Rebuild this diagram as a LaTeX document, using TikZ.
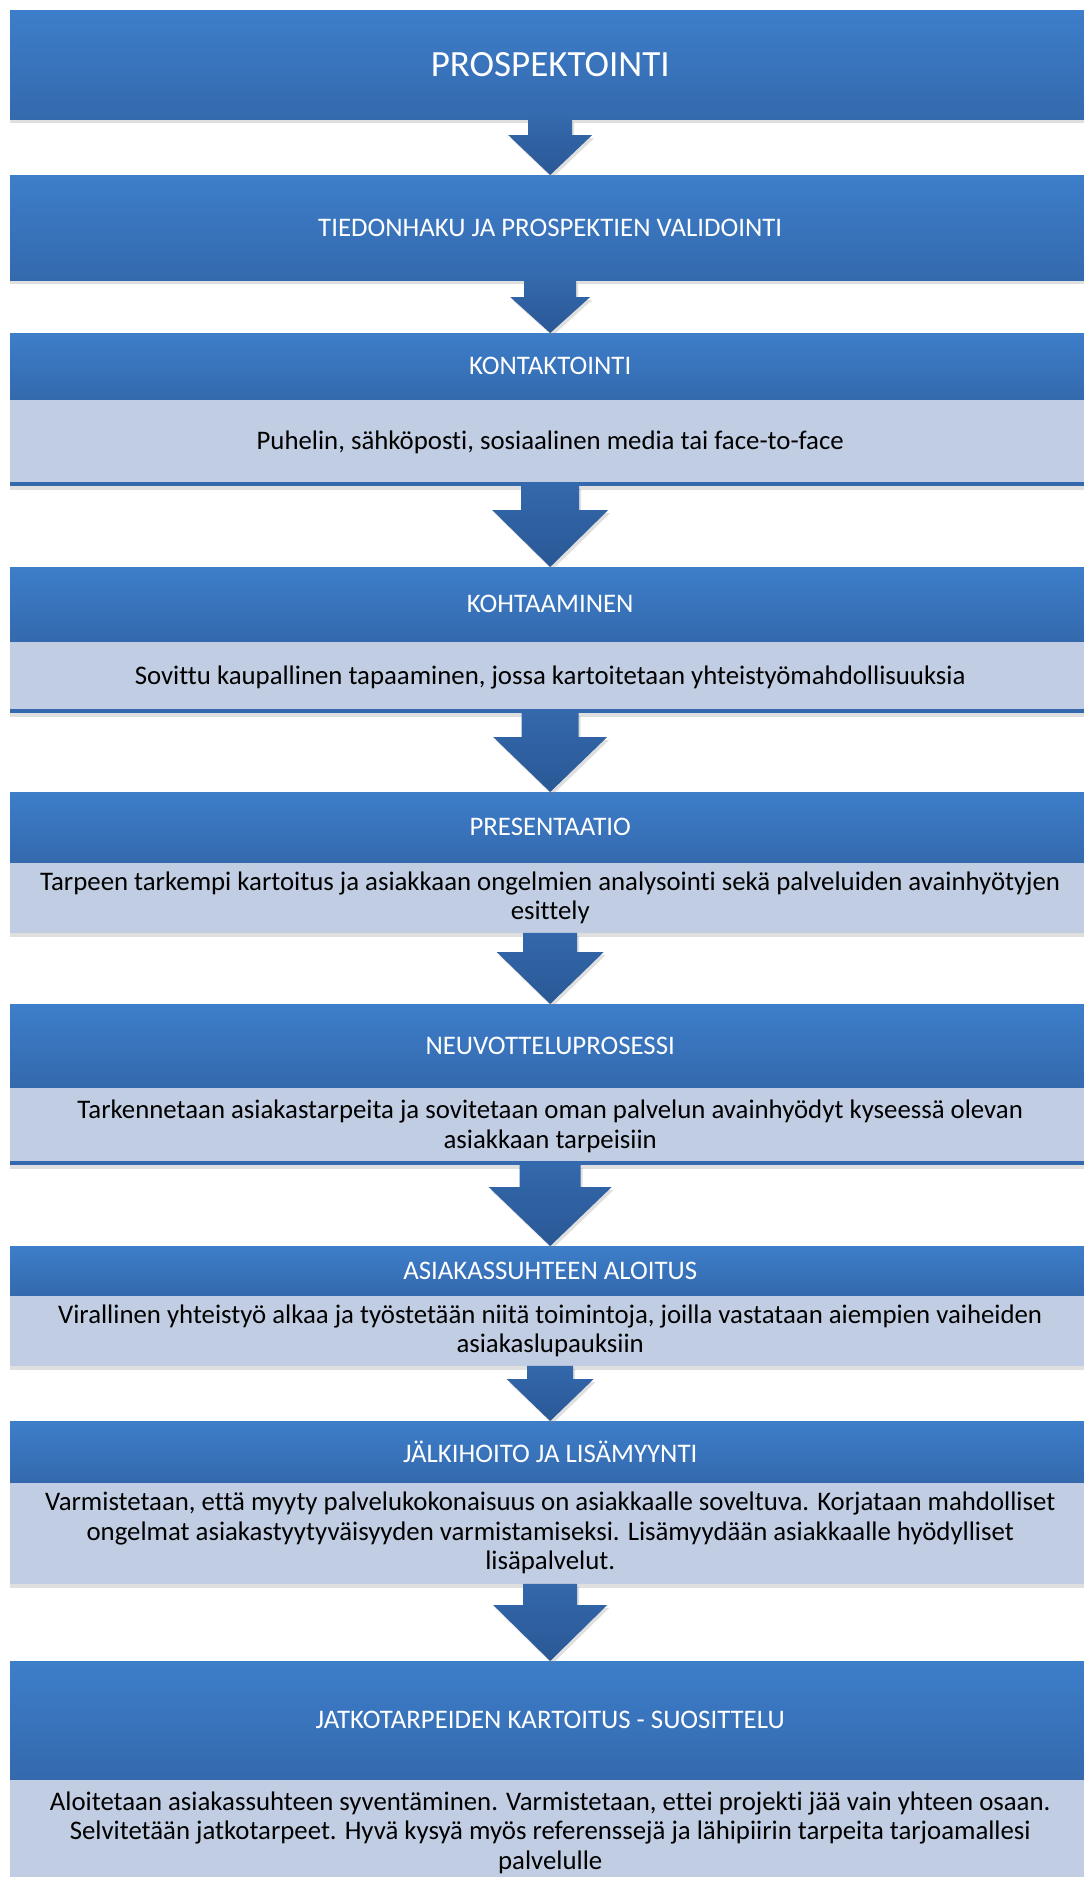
\documentclass[tikz,border=0pt]{standalone}
\usepackage{fontspec}
\setmainfont{Carlito}[Ligatures=CommonOff]
\usetikzlibrary{positioning,calc,shadows}
\definecolor{hdrTop}{RGB}{61,126,202}
\definecolor{hdrBot}{RGB}{52,105,173}
\definecolor{bodyFill}{RGB}{193,205,226}
\definecolor{arrTop}{RGB}{51,104,171}
\definecolor{arrBot}{RGB}{42,88,150}
\newcommand{\flowarrow}[5]{%
  \shade[arrowshade] let \p1=(#1.south), \p2=(#2.north) in
    (\x1-#3pt,\y1) -- (\x1+#3pt,\y1) -- (\x1+#3pt,\y2+#5pt) -- (\x1+#4pt,\y2+#5pt)
    -- (\x1,\y2) -- (\x1-#4pt,\y2+#5pt) -- (\x1-#3pt,\y2+#5pt) -- cycle;}

\begin{document}
\begin{tikzpicture}[
    x=1pt, y=1pt,
    hdr/.style={rectangle, inner sep=0pt, minimum width=1080pt, anchor=north west,
      text=white, top color=hdrTop, bottom color=hdrBot,
      font=\fontsize{26.8}{30}\selectfont,
      drop shadow={shadow xshift=0pt, shadow yshift=-4pt, opacity=.25}},
    body/.style={rectangle, inner sep=0pt, minimum width=1080pt, fill=bodyFill,
      align=center, font=\fontsize{26.8}{29.5}\selectfont,
      drop shadow={shadow xshift=0pt, shadow yshift=-4pt, opacity=.25}},
    arrowshade/.style={top color=arrTop, bottom color=arrBot,
      drop shadow={shadow xshift=2pt, shadow yshift=-3pt, opacity=.25}},
    bodyedge/.style={draw=hdrBot, line width=4pt}
]
\clip (0,0) rectangle (1084,-1877);
\fill[white] (0,0) rectangle (1084,-1877);

\node[hdr, minimum height=109pt, font=\fontsize{37}{44}\selectfont] (PR) at (10,-10) {PROSPEKTOINTI};
\node[hdr, minimum height=105pt] (TI) at (10,-175) {TIEDONHAKU JA PROSPEKTIEN VALIDOINTI};

\node[hdr, minimum height=66pt] (KO) at (10,-333) {KONTAKTOINTI};
\node[body, minimum height=86pt] (KOb) [below=0pt of KO] {Puhelin, sähköposti, sosiaalinen media tai face-to-face};

\node[hdr, minimum height=74pt] (KH) at (10,-567) {KOHTAAMINEN};
\node[body, minimum height=71pt] (KHb) [below=0pt of KH] {Sovittu kaupallinen tapaaminen, jossa kartoitetaan yhteistyömahdollisuuksia};

\node[hdr, minimum height=70pt] (PE) at (10,-792) {PRESENTAATIO};
\node[body, minimum height=70pt] (PEb) [below=0pt of PE] {Tarpeen tarkempi kartoitus ja asiakkaan ongelmien analysointi sekä palveluiden avainhyötyjen\\esittely};

\node[hdr, minimum height=83pt] (NE) at (10,-1004) {NEUVOTTELUPROSESSI};
\node[body, minimum height=77pt] (NEb) [below=0pt of NE] {Tarkennetaan asiakastarpeita ja sovitetaan oman palvelun avainhyödyt kyseessä olevan\\asiakkaan tarpeisiin};

\node[hdr, minimum height=49pt] (AS) at (10,-1246) {ASIAKASSUHTEEN ALOITUS};
\node[body, minimum height=70pt] (ASb) [below=0pt of AS] {Virallinen yhteistyö alkaa ja työstetään niitä toimintoja, joilla vastataan aiempien vaiheiden\\asiakaslupauksiin};

\node[hdr, minimum height=61pt] (JL) at (10,-1421) {JÄLKIHOITO JA LISÄMYYNTI};
\node[body, minimum height=101pt] (JLb) [below=0pt of JL] {Varmistetaan, että myyty palvelukokonaisuus on asiakkaalle soveltuva. Korjataan mahdolliset\\ongelmat asiakastyytyväisyyden varmistamiseksi. Lisämyydään asiakkaalle hyödylliset\\lisäpalvelut.};

\node[hdr, minimum height=118pt] (JA) at (10,-1661) {JATKOTARPEIDEN KARTOITUS - SUOSITTELU};
\node[body, minimum height=106pt] (JAb) [below=0pt of JA] {Aloitetaan asiakassuhteen syventäminen. Varmistetaan, ettei projekti jää vain yhteen osaan.\\Selvitetään jatkotarpeet. Hyvä kysyä myös referenssejä ja lähipiirin tarpeita tarjoamallesi\\palvelulle};

\draw[bodyedge] ([yshift=2pt]KOb.south west) -- ([yshift=2pt]KOb.south east);
\draw[bodyedge] ([yshift=2pt]KHb.south west) -- ([yshift=2pt]KHb.south east);
\draw[bodyedge] ([yshift=2pt]NEb.south west) -- ([yshift=2pt]NEb.south east);

\flowarrow{PR}{TI}{22}{42}{40}
\flowarrow{TI}{KO}{26}{40}{36}
\flowarrow{KOb}{KH}{29}{58}{57}
\flowarrow{KHb}{PE}{28.5}{57}{55}
\flowarrow{PEb}{NE}{27}{53.5}{52}
\flowarrow{NEb}{AS}{30.5}{61.5}{59}
\flowarrow{ASb}{JL}{23}{43.5}{42}
\flowarrow{JLb}{JA}{27}{57}{56}
\end{tikzpicture}
\end{document}
